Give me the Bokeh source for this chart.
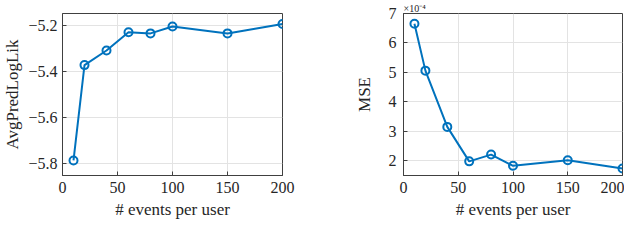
from bokeh.plotting import figure
from bokeh.layouts import row
from bokeh.models import FixedTicker, Range1d, Title, CustomJSTickFormatter
from bokeh.embed import file_html
from bokeh.resources import INLINE

events = [10, 20, 40, 60, 80, 100, 150, 200]
avg_pred_loglik = [-5.785, -5.373, -5.31, -5.231, -5.236, -5.206, -5.236, -5.195]
mse = [6.65e-4, 5.06e-4, 3.15e-4, 1.98e-4, 2.21e-4, 1.83e-4, 2.02e-4, 1.74e-4]
x_ticks = [0, 50, 100, 150, 200]
ll_ticks = [-5.8, -5.6, -5.4, -5.2]
mse_ticks = [2e-4, 3e-4, 4e-4, 5e-4, 6e-4, 7e-4]

FONT = "Liberation Serif"
BLUE = "#0072BD"
AXC = "#404040"
TXT = "#262626"
H = 221


def style(p, xlabel, ylabel):
    p.outline_line_color = AXC
    p.outline_line_width = 1
    p.xaxis.axis_label = xlabel
    p.yaxis.axis_label = ylabel
    for ax in (p.xaxis[0], p.yaxis[0]):
        ax.axis_label_text_font = FONT
        ax.axis_label_text_font_style = "normal"
        ax.axis_label_text_font_size = "17px"
        ax.axis_label_text_color = TXT
        ax.major_label_text_font = FONT
        ax.major_label_text_font_size = "16px"
        ax.major_label_text_color = TXT
        ax.axis_line_color = AXC
        ax.major_tick_line_color = AXC
        ax.major_tick_in = 4
        ax.major_tick_out = 0
        ax.minor_tick_line_color = None
    p.xaxis.axis_label_standoff = 4
    p.xaxis.major_label_standoff = 6
    p.xgrid.grid_line_color = "#e3e3e3"
    p.ygrid.grid_line_color = "#e3e3e3"
    p.xaxis.ticker = FixedTicker(ticks=x_ticks)
    p.background_fill_color = "white"
    p.border_fill_color = "white"


p1 = figure(width=320, height=H, output_backend="svg", toolbar_location=None,
            x_range=Range1d(0, 200), y_range=Range1d(-5.85, -5.15),
            min_border_left=50, min_border_right=38, min_border_top=0, min_border_bottom=0)
style(p1, "# events per user", "AvgPredLogLik")
p1.yaxis.ticker = FixedTicker(ticks=ll_ticks)
p1.yaxis.major_label_standoff = 5
p1.yaxis.axis_label_standoff = 3
p1.line(events, avg_pred_loglik, line_color=BLUE, line_width=2)
p1.scatter(events, avg_pred_loglik, marker="circle", size=8, line_color=BLUE,
           line_width=2, fill_color=None)
p1.add_layout(Title(text=" ", text_font=FONT, text_font_size="10px", standoff=0), "above")

p2 = figure(width=304, height=H, output_backend="svg", toolbar_location=None,
            x_range=Range1d(0, 200), y_range=Range1d(1.5e-4, 7e-4),
            min_border_left=83, min_border_right=2, min_border_top=0, min_border_bottom=0)
style(p2, "# events per user", "MSE")
p2.yaxis.ticker = FixedTicker(ticks=mse_ticks)
p2.yaxis.formatter = CustomJSTickFormatter(code="return (tick*1e4).toFixed(0);")
p2.yaxis.major_label_standoff = 7
p2.yaxis.axis_label_standoff = 12
p2.line(events, mse, line_color=BLUE, line_width=2)
p2.scatter(events, mse, marker="circle", size=8, line_color=BLUE,
           line_width=2, fill_color=None)
p2.add_layout(Title(text="×10⁻⁴", align="left", text_font=FONT, text_font_size="10px",
                    text_font_style="normal", text_color=TXT, standoff=0), "above")

layout = row(p1, p2)
open("out.html", "w").write(file_html(layout, INLINE))
